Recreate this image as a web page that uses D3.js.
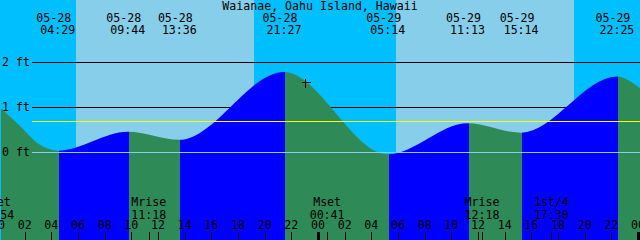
<!DOCTYPE html>
<html>
<head>
<meta charset="utf-8">
<script src="https://cdn.jsdelivr.net/npm/d3@7"></script>
<style>
  body { margin: 0; background: #00bfff; }
  svg { display: block; }
  text { font-family: "DejaVu Sans Mono", monospace; font-size: 11.6px; fill: #000; }
</style>
</head>
<body>
<div id="chart"></div>
<script>
// Station and the 48 hour window shown (local time)
var title = "Waianae, Oahu Island, Hawaii";
var windowStart = "2020-05-28 00:09";
var windowEnd = "2020-05-30 00:09";

// High and low tides
var tideTimes = ["2020-05-28 04:29", "2020-05-28 09:44", "2020-05-28 13:36", "2020-05-28 21:27",
                 "2020-05-29 05:14", "2020-05-29 11:13", "2020-05-29 15:14", "2020-05-29 22:25"];
var tideKinds = ["L", "H", "L", "H", "L", "H", "L", "H"];
var tideFeet = [0.03, 0.45, 0.27, 1.78, -0.05, 0.64, 0.43, 1.68];

// Extra readings of the curve near the edges
var edgeTimes = ["2020-05-28 00:00", "2020-05-28 01:39", "2020-05-28 03:09", "2020-05-30 00:09"];
var edgeFeet = [1.03, 0.58, 0.16, 1.42];

// Sun
var sunriseTimes = ["2020-05-28 05:51", "2020-05-29 05:51"];
var sunsetTimes = ["2020-05-28 19:12", "2020-05-29 19:12"];

// Moon events
var moonNames = ["Mset", "Mrise", "Mset", "Mrise", "1st/4"];
var moonTimes = ["2020-05-27 23:54", "2020-05-28 11:18", "2020-05-29 00:41", "2020-05-29 12:18", "2020-05-29 17:30"];

// Level lines
var gridFeet = [2, 1, 0];
var gridLabels = ["2 ft", "1 ft", "0 ft"];
var meanFeet = 0.70;

// Current time mark
var nowTime = "2020-05-28 23:01";
var nowFeet = 1.56;

var width = 640, height = 240;
var parse = d3.timeParse("%Y-%m-%d %H:%M");
var start = parse(windowStart), end = parse(windowEnd);

var x = d3.scaleTime().domain([start, end]).range([0, width]);
var y = d3.scaleLinear().domain([0, 2]).range([152, 62]);
var px = function(v) { return Math.round(v) + 0.5; };

var svg = d3.select("#chart").append("svg")
    .attr("width", width)
    .attr("height", height);

// Night sky, then day bands
svg.append("rect")
    .attr("width", width).attr("height", height)
    .style("fill", "#00bfff");
svg.selectAll("rect.day")
    .data(sunriseTimes)
    .enter().append("rect")
    .attr("class", "day")
    .attr("x", function(d) { return x(parse(d)); })
    .attr("width", function(d, i) { return x(parse(sunsetTimes[i])) - x(parse(d)); })
    .attr("y", 0).attr("height", height)
    .style("fill", "#87ceeb");

// Foot lines behind the water
svg.selectAll("line.grid")
    .data(gridFeet.slice(0, 2))
    .enter().append("line")
    .attr("class", "grid")
    .attr("x1", 32).attr("x2", width)
    .attr("y1", function(d) { return px(y(d)); })
    .attr("y2", function(d) { return px(y(d)); })
    .style("stroke", "#000")
    .style("shape-rendering", "crispEdges");

// Tide curve points, sorted by time
var points = tideTimes.map(function(t, i) { return {t: parse(t), v: tideFeet[i]}; })
    .concat(edgeTimes.map(function(t, i) { return {t: parse(t), v: edgeFeet[i]}; }))
    .sort(function(a, b) { return a.t - b.t; });

var area = d3.area()
    .x(function(d) { return x(d.t); })
    .y0(height)
    .y1(function(d) { return y(d.v); })
    .curve(d3.curveMonotoneX);

svg.append("clipPath").attr("id", "water")
    .append("path").attr("d", area(points));

// Rising (flood) and falling (ebb) stretches between extremes
var bounds = [start].concat(tideTimes.map(parse), [end]);
var segs = [];
for (var i = 0; i < bounds.length - 1; i++) {
    var rising = i < tideKinds.length ? tideKinds[i] === "H" : tideKinds[tideKinds.length - 1] === "L";
    segs.push({a: bounds[i], b: bounds[i + 1], rising: rising});
}
svg.append("g")
    .attr("clip-path", "url(#water)")
    .selectAll("rect")
    .data(segs)
    .enter().append("rect")
    .attr("x", function(d) { return Math.round(x(d.a)) + 1; })
    .attr("width", function(d) { return Math.round(x(d.b)) - Math.round(x(d.a)); })
    .attr("y", 0).attr("height", height)
    .style("fill", function(d) { return d.rising ? "#0000ff" : "#2e8b57"; })
    .style("shape-rendering", "crispEdges");

// Datum and mean level lines on top
svg.append("line")
    .attr("x1", 32).attr("x2", width)
    .attr("y1", px(y(0))).attr("y2", px(y(0)))
    .style("stroke", "#87ceeb")
    .style("shape-rendering", "crispEdges");
svg.append("line")
    .attr("x1", 32).attr("x2", width)
    .attr("y1", px(y(meanFeet))).attr("y2", px(y(meanFeet)))
    .style("stroke", "#ffff00")
    .style("shape-rendering", "crispEdges");

// Now mark
var nx = px(x(parse(nowTime))), ny = px(y(nowFeet));
svg.append("path")
    .attr("d", "M" + (nx - 4) + "," + ny + "H" + (nx + 5) + "M" + nx + "," + (ny - 4) + "V" + (ny + 5))
    .style("stroke", "#000")
    .style("fill", "none")
    .style("shape-rendering", "crispEdges");

// Y labels
svg.selectAll("text.ylab")
    .data(gridFeet)
    .enter().append("text")
    .attr("class", "ylab")
    .attr("x", 2)
    .attr("y", function(d) { return y(d) + 4; })
    .text(function(d, i) { return gridLabels[i]; });

// Title
svg.append("text")
    .attr("x", width / 2).attr("y", 10)
    .attr("text-anchor", "middle")
    .text(title);

// High / low labels
var fmtDate = d3.timeFormat("%m-%d"), fmtTime = d3.timeFormat("%H:%M");
var hilo = svg.selectAll("g.hilo")
    .data(tideTimes.map(parse))
    .enter().append("g")
    .attr("class", "hilo")
    .attr("transform", function(d) { return "translate(" + x(d) + ",0)"; });
hilo.append("text")
    .attr("x", -4).attr("y", 21.5)
    .attr("text-anchor", "middle")
    .text(fmtDate);
hilo.append("text")
    .attr("x", 0).attr("y", 33.5)
    .attr("text-anchor", "middle")
    .text(fmtTime);

// Moon labels and ticks
var moon = svg.selectAll("g.moon")
    .data(moonTimes.map(parse))
    .enter().append("g")
    .attr("class", "moon")
    .attr("transform", function(d) { return "translate(" + x(d) + ",0)"; });
moon.append("text")
    .attr("y", 205.5)
    .attr("text-anchor", "middle")
    .text(function(d, i) { return moonNames[i]; });
moon.append("text")
    .attr("y", 218.5)
    .attr("text-anchor", "middle")
    .text(fmtTime);
svg.selectAll("line.mtick")
    .data(moonTimes.map(parse))
    .enter().append("line")
    .attr("class", "mtick")
    .attr("x1", function(d) { return px(x(d)); })
    .attr("x2", function(d) { return px(x(d)); })
    .attr("y1", 232).attr("y2", height)
    .style("stroke", "#000")
    .style("shape-rendering", "crispEdges");

// Hour axis, every 2 hours, thick ticks at midnight
var hours = d3.timeHour.every(2).range(d3.timeDay.floor(start), end);
var fmtHour = d3.timeFormat("%H");
svg.selectAll("text.hour")
    .data(hours)
    .enter().append("text")
    .attr("class", "hour")
    .attr("x", function(d) { return x(d); })
    .attr("y", 229)
    .attr("text-anchor", "middle")
    .text(fmtHour);
svg.selectAll("line.htick")
    .data(hours)
    .enter().append("line")
    .attr("class", "htick")
    .attr("x1", function(d) { return px(x(d)); })
    .attr("x2", function(d) { return px(x(d)); })
    .attr("y1", 232).attr("y2", height)
    .style("stroke", "#000")
    .style("stroke-width", function(d) { return d.getHours() === 0 ? 3 : 1; })
    .style("shape-rendering", "crispEdges");
</script>
</body>
</html>
